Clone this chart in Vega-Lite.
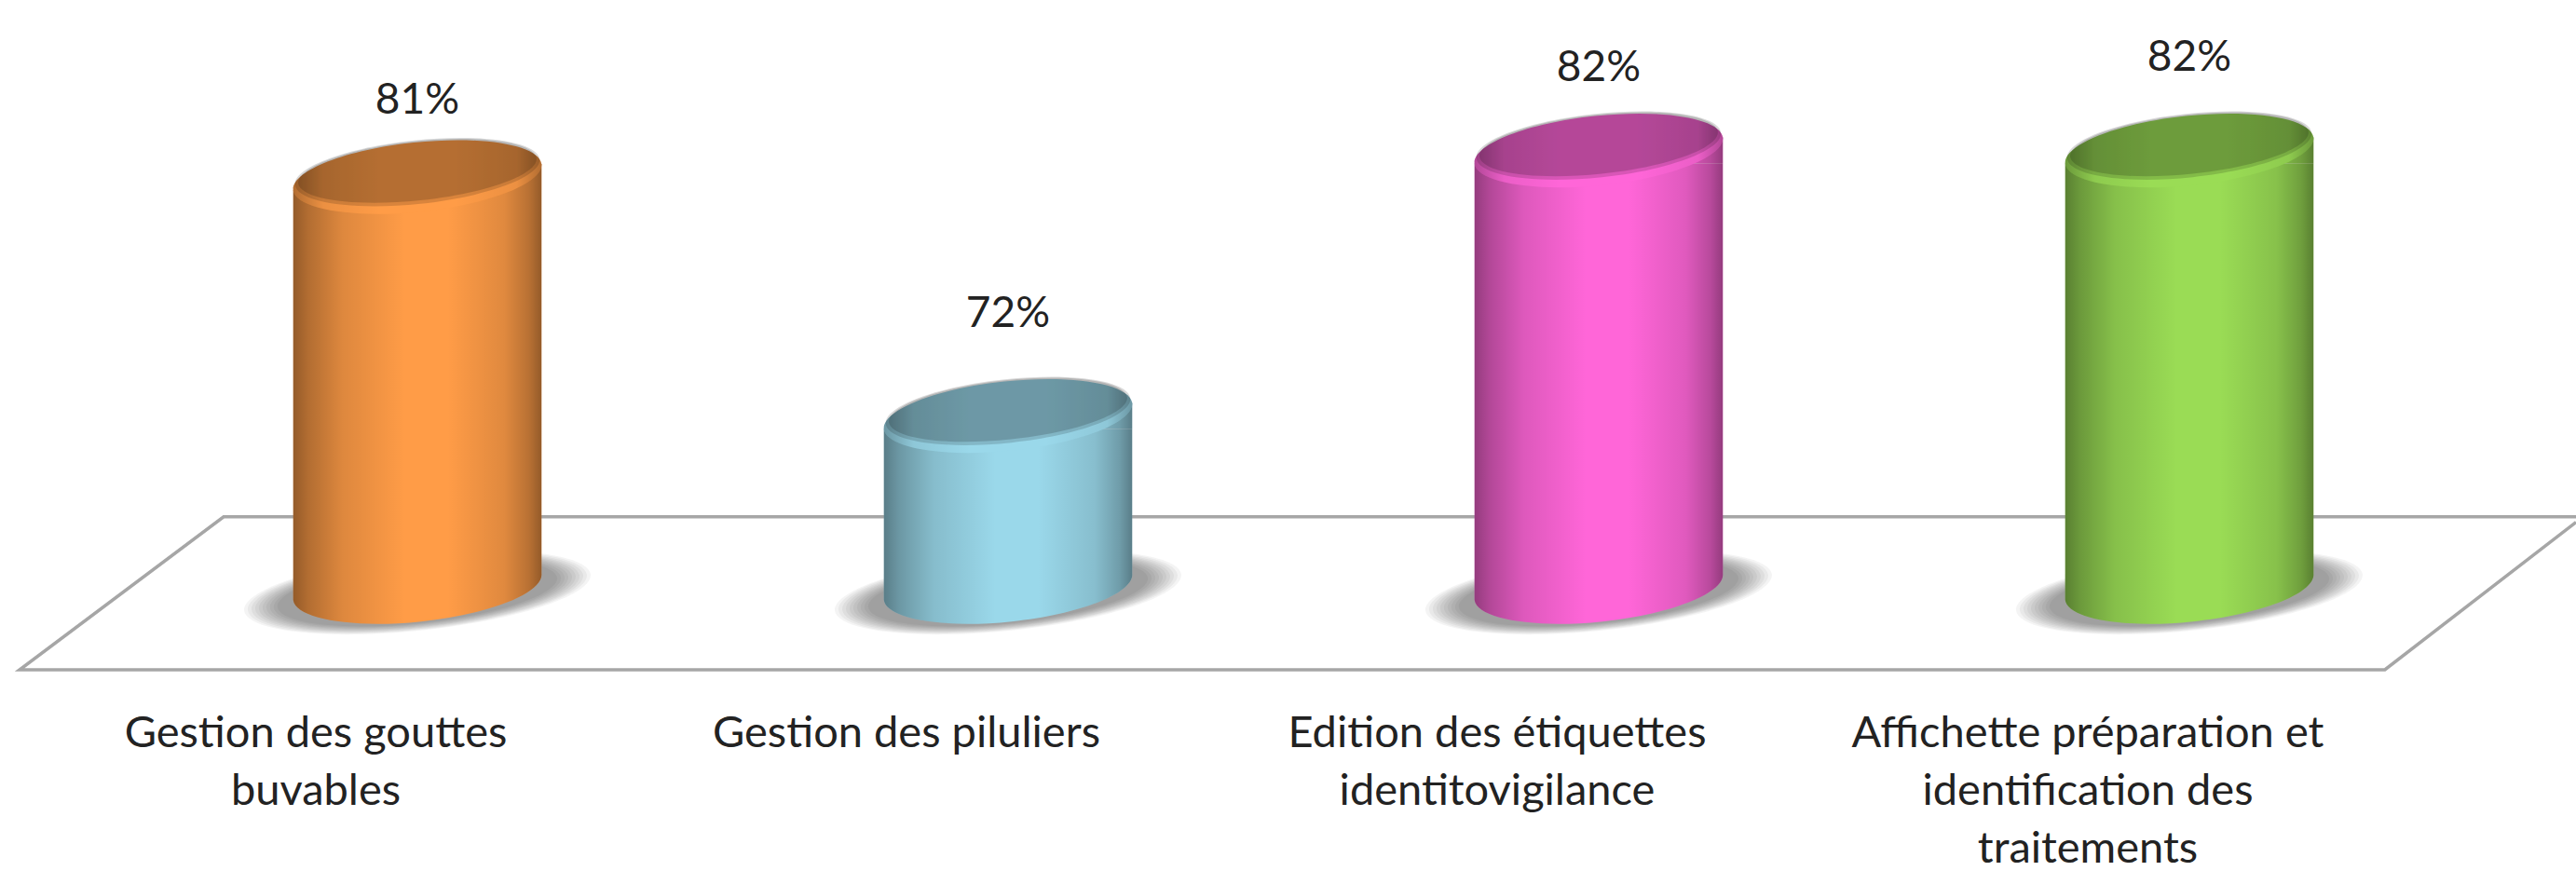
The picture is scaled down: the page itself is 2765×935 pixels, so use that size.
{"$schema":"https://vega.github.io/schema/vega-lite/v6.json","width":2765,"height":935,"padding":0,"autosize":"none","background":"white","view":{"stroke":null},"config":{"view":{"stroke":null}},
"data":{"values":[{"category":"Gestion des gouttes\nbuvables","slot":1,"value":81},{"category":"Gestion des piluliers","slot":2,"value":72},{"category":"Edition des étiquettes\nidentitovigilance","slot":3,"value":82},{"category":"Affichette préparation et\nidentification des\ntraitements","slot":4,"value":82}]},
"encoding":{"x":{"field":"slot","type":"quantitative","axis":null,"scale":{"domain":[0.2934,4.6546],"nice":false,"zero":false,"padding":0}},"y":{"field":"value","type":"quantitative","axis":null,"scale":{"domain":[54.86,87.67],"nice":false,"zero":false,"padding":0}}},
"layer":[
{"data":{"values":[{"slot":4.6546,"value":68.2,"order":1},{"slot":0.672,"value":68.2,"order":2},{"slot":0.3265,"value":62.44,"order":3},{"slot":4.331,"value":62.44,"order":4},{"slot":4.6546,"value":68.0,"order":5}]},"mark":{"type":"line","color":"#a6a6a6","strokeWidth":3.5},"encoding":{"order":{"field":"order","type":"quantitative"}}},
{"mark":{"type":"point","filled":true,"fill":"#000","opacity":0.045,"size":139876,"strokeWidth":0,"yOffset":6,"shape":"M -.9945 .1045 A 1 .22 -6 0 1 .9945 -.1045 A 1 .22 -6 0 1 -.9945 .1045 Z"},"encoding":{"y":{"datum":65.56}}},
{"mark":{"type":"point","filled":true,"fill":"#000","opacity":0.045,"size":133956,"strokeWidth":0,"yOffset":6,"shape":"M -.9945 .1045 A 1 .22 -6 0 1 .9945 -.1045 A 1 .22 -6 0 1 -.9945 .1045 Z"},"encoding":{"y":{"datum":65.56}}},
{"mark":{"type":"point","filled":true,"fill":"#000","opacity":0.045,"size":128164,"strokeWidth":0,"yOffset":6,"shape":"M -.9945 .1045 A 1 .22 -6 0 1 .9945 -.1045 A 1 .22 -6 0 1 -.9945 .1045 Z"},"encoding":{"y":{"datum":65.56}}},
{"mark":{"type":"point","filled":true,"fill":"#000","opacity":0.045,"size":122500,"strokeWidth":0,"yOffset":6,"shape":"M -.9945 .1045 A 1 .22 -6 0 1 .9945 -.1045 A 1 .22 -6 0 1 -.9945 .1045 Z"},"encoding":{"y":{"datum":65.56}}},
{"mark":{"type":"point","filled":true,"fill":"#000","opacity":0.045,"size":116964,"strokeWidth":0,"yOffset":6,"shape":"M -.9945 .1045 A 1 .22 -6 0 1 .9945 -.1045 A 1 .22 -6 0 1 -.9945 .1045 Z"},"encoding":{"y":{"datum":65.56}}},
{"mark":{"type":"point","filled":true,"fill":"#000","opacity":0.045,"size":111556,"strokeWidth":0,"yOffset":6,"shape":"M -.9945 .1045 A 1 .22 -6 0 1 .9945 -.1045 A 1 .22 -6 0 1 -.9945 .1045 Z"},"encoding":{"y":{"datum":65.56}}},
{"mark":{"type":"point","filled":true,"fill":"#000","opacity":0.045,"size":106276,"strokeWidth":0,"yOffset":6,"shape":"M -.9945 .1045 A 1 .22 -6 0 1 .9945 -.1045 A 1 .22 -6 0 1 -.9945 .1045 Z"},"encoding":{"y":{"datum":65.56}}},
{"mark":{"type":"point","filled":true,"fill":"#000","opacity":0.045,"size":101124,"strokeWidth":0,"yOffset":6,"shape":"M -.9945 .1045 A 1 .22 -6 0 1 .9945 -.1045 A 1 .22 -6 0 1 -.9945 .1045 Z"},"encoding":{"y":{"datum":65.56}}},
{"mark":{"type":"point","filled":true,"fill":"#000","opacity":0.045,"size":96100,"strokeWidth":0,"yOffset":6,"shape":"M -.9945 .1045 A 1 .22 -6 0 1 .9945 -.1045 A 1 .22 -6 0 1 -.9945 .1045 Z"},"encoding":{"y":{"datum":65.56}}},
{"mark":{"type":"point","filled":true,"fill":"#000","opacity":0.045,"size":91204,"strokeWidth":0,"yOffset":6,"shape":"M -.9945 .1045 A 1 .22 -6 0 1 .9945 -.1045 A 1 .22 -6 0 1 -.9945 .1045 Z"},"encoding":{"y":{"datum":65.56}}},
{"mark":{"type":"bar","width":266.5,"yOffset":14,"y2Offset":-14},"encoding":{"y2":{"datum":65.56},"fill":{"field":"category","type":"nominal","legend":null,"scale":{"domain":["Gestion des gouttes\nbuvables","Gestion des piluliers","Edition des étiquettes\nidentitovigilance","Affichette préparation et\nidentification des\ntraitements"],"range":["#ff9c47","#9ad8ea","#ff66d8","#9adc55"]}}}},
{"mark":{"type":"point","filled":true,"opacity":1,"size":71824,"strokeWidth":0,"shape":"M -.9945 -.1045 L .9945 -.1045 A 1 .28 -6 0 1 -.9945 .1045 Z"},"encoding":{"y":{"datum":65.56},"fill":{"field":"category","type":"nominal","legend":null}}},
{"mark":{"type":"point","filled":true,"opacity":1,"size":71824,"strokeWidth":0,"shape":"M -.9945 .1045 L .9945 .1045 L .9945 -.1045 Z"},"encoding":{"fill":{"field":"category","type":"nominal","legend":null}}},
{"mark":{"type":"bar","width":266.5,"yOffset":14,"y2Offset":-14,"fill":{"gradient":"linear","x1":0,"x2":1,"y1":0,"y2":0,"stops":[{"offset":0,"color":"rgba(0,0,0,0.42)"},{"offset":0.06,"color":"rgba(0,0,0,0.3)"},{"offset":0.2,"color":"rgba(0,0,0,0.13)"},{"offset":0.45,"color":"rgba(0,0,0,0)"},{"offset":0.62,"color":"rgba(0,0,0,0)"},{"offset":0.85,"color":"rgba(0,0,0,0.12)"},{"offset":0.95,"color":"rgba(0,0,0,0.28)"},{"offset":1,"color":"rgba(0,0,0,0.42)"}]}},"encoding":{"y2":{"datum":65.56}}},
{"mark":{"type":"point","filled":true,"opacity":1,"size":71824,"strokeWidth":0,"shape":"M -.9945 -.1045 L .9945 -.1045 A 1 .28 -6 0 1 -.9945 .1045 Z","fill":{"gradient":"linear","x1":0,"x2":1,"y1":0,"y2":0,"stops":[{"offset":0,"color":"rgba(0,0,0,0.42)"},{"offset":0.06,"color":"rgba(0,0,0,0.3)"},{"offset":0.2,"color":"rgba(0,0,0,0.13)"},{"offset":0.45,"color":"rgba(0,0,0,0)"},{"offset":0.62,"color":"rgba(0,0,0,0)"},{"offset":0.85,"color":"rgba(0,0,0,0.12)"},{"offset":0.95,"color":"rgba(0,0,0,0.28)"},{"offset":1,"color":"rgba(0,0,0,0.42)"}]}},"encoding":{"y":{"datum":65.56}}},
{"mark":{"type":"point","filled":true,"opacity":1,"size":71824,"strokeWidth":0,"shape":"M -.9945 .1045 L .9945 .1045 L .9945 -.1045 Z","fill":{"gradient":"linear","x1":0,"x2":1,"y1":0,"y2":0,"stops":[{"offset":0,"color":"rgba(0,0,0,0.42)"},{"offset":0.06,"color":"rgba(0,0,0,0.3)"},{"offset":0.2,"color":"rgba(0,0,0,0.13)"},{"offset":0.45,"color":"rgba(0,0,0,0)"},{"offset":0.62,"color":"rgba(0,0,0,0)"},{"offset":0.85,"color":"rgba(0,0,0,0.12)"},{"offset":0.95,"color":"rgba(0,0,0,0.28)"},{"offset":1,"color":"rgba(0,0,0,0.42)"}]}}},
{"mark":{"type":"point","filled":true,"opacity":1,"size":71824,"strokeWidth":0,"shape":"M -.9945 .1045 A 1 .28 -6 0 1 .9945 -.1045 A 1 .28 -6 0 1 -.9945 .1045 Z"},"encoding":{"fill":{"field":"category","type":"nominal","legend":null}}},
{"mark":{"type":"point","filled":true,"opacity":1,"size":71824,"strokeWidth":0,"shape":"M -.9945 .1045 A 1 .28 -6 0 1 .9945 -.1045 A 1 .28 -6 0 1 -.9945 .1045 Z","fill":{"gradient":"linear","x1":0,"x2":1,"y1":0,"y2":0,"stops":[{"offset":0,"color":"rgba(0,0,0,0.3)"},{"offset":0.12,"color":"rgba(0,0,0,0.08)"},{"offset":0.35,"color":"rgba(0,0,0,0)"},{"offset":0.65,"color":"rgba(0,0,0,0)"},{"offset":0.9,"color":"rgba(0,0,0,0.08)"},{"offset":1,"color":"rgba(0,0,0,0.3)"}]}}},
{"mark":{"type":"point","filled":true,"fill":"#000","opacity":0.15,"size":71824,"strokeWidth":0,"shape":"M -.9796 .063 A .985 .255 -6 0 1 .9796 -.143 A .985 .255 -6 0 1 -.9796 .063 Z"}},
{"mark":{"type":"point","filled":true,"fill":"#000","opacity":0.165,"size":71824,"strokeWidth":0,"shape":"M -.9547 .0503 A .96 .24 -6 0 1 .9547 -.1503 A .96 .24 -6 0 1 -.9547 .0503 Z"}},
{"transform":[{"calculate":"datum.value + '%'","as":"label"}],"mark":{"type":"text","font":"Lato","fontSize":46,"color":"#222222","baseline":"middle","align":"center","dy":{"expr":"datum.slot==1?-82:datum.slot==2?-110:datum.slot==3?-89:-100"}},"encoding":{"text":{"field":"label","type":"nominal"}}},
{"mark":{"type":"text","font":"Lato","fontSize":47,"color":"#222222","baseline":"top","align":"center","lineBreak":"\n","lineHeight":62,"xOffset":-109},"encoding":{"y":{"datum":60.82},"text":{"field":"category","type":"nominal"}}}
]}
